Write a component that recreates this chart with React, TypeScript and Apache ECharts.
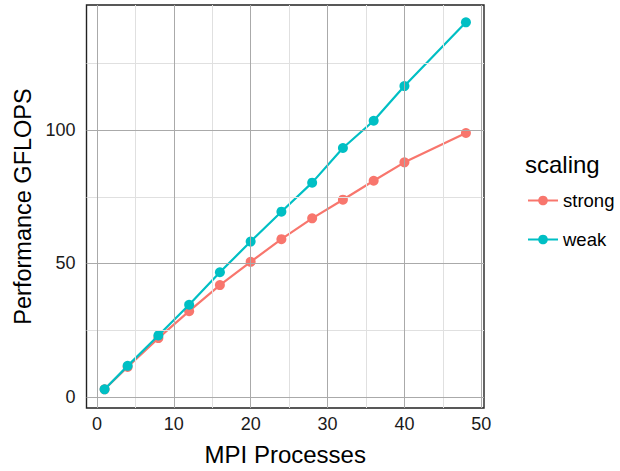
import React, { useEffect, useRef } from "react";
import * as echarts from "echarts";

const processes = [1, 4, 8, 12, 16, 20, 24, 28, 32, 36, 40, 48];
const strongGflops = [2.8, 11.2, 22.0, 32.1, 41.9, 50.6, 59.1, 66.9, 73.9, 81.0, 87.9, 98.9];
const weakGflops = [2.8, 11.6, 23.0, 34.5, 46.7, 58.2, 69.4, 80.3, 93.3, 103.5, 116.5, 140.4];
const xMajorTicks = [0, 10, 20, 30, 40, 50];
const xMinorTicks = [5, 15, 25, 35, 45];
const yMajorTicks = [0, 50, 100];
const yMinorTicks = [25, 75, 125];
const seriesNames = ["strong", "weak"];
const legendTitle = "scaling";

const FONT = "'Liberation Sans', Arial, Helvetica, sans-serif";

export default function App() {
  const ref = useRef<HTMLDivElement>(null);
  useEffect(() => {
    if (!ref.current) return;
    const chart = echarts.init(ref.current, undefined, { renderer: "svg" });
    const xs = processes;
    const xMin = -1.35, xMax = 50.35;
    const yMin = -4.2, yMax = 146.9;
    const gridLines = (vals: number[], axis: "xAxis" | "yAxis", color: string) =>
      vals.map((v) => ({ [axis]: v, lineStyle: { color, width: 1, type: "solid" } }));
    chart.setOption({
      animation: false,
      textStyle: { fontFamily: FONT },
      grid: {
        left: 86.5,
        right: 136,
        top: 5,
        bottom: 63,
        show: true,
        borderColor: "#222",
        borderWidth: 1.4,
        backgroundColor: "#fff",
      },
      xAxis: {
        type: "value",
        min: xMin,
        max: xMax,
        name: "MPI Processes",
        nameLocation: "middle",
        nameGap: 34,
        nameTextStyle: { fontSize: 24, color: "#000", fontFamily: FONT },
        axisLine: { show: false },
        axisTick: { show: true, length: 4, lineStyle: { color: "#333" }, customValues: xMajorTicks },
        axisLabel: { customValues: xMajorTicks, fontSize: 18, color: "#1a1a1a", margin: 7, fontFamily: FONT },
        splitLine: { show: false },
      },
      yAxis: {
        type: "value",
        min: yMin,
        max: yMax,
        name: "Performance GFLOPS",
        nameLocation: "middle",
        nameGap: 52,
        nameTextStyle: { fontSize: 23.5, color: "#000", fontFamily: FONT },
        axisLine: { show: false },
        axisTick: { show: true, length: 4, lineStyle: { color: "#333" }, customValues: yMajorTicks },
        axisLabel: { customValues: yMajorTicks, fontSize: 18, color: "#1a1a1a", margin: 11, fontFamily: FONT },
        splitLine: { show: false },
      },
      legend: {
        data: seriesNames,
        orient: "vertical",
        left: 527,
        top: 191,
        padding: 0,
        itemWidth: 30,
        itemHeight: 12,
        itemGap: 20,
        itemTextGap: 14,
        textStyle: { fontSize: 18.5, color: "#000", fontFamily: FONT },
      },
      graphic: [
        {
          type: "text",
          left: 525,
          top: 152,
          style: { text: legendTitle, fontSize: 24, fill: "#000", fontFamily: FONT },
        },
      ],
      series: [
        {
          type: "line",
          name: "__grid",
          data: [],
          z: 1,
          silent: true,
          markLine: {
            silent: true,
            symbol: ["none", "none"],
            label: { show: false },
            animation: false,
            data: [
              ...gridLines(xMinorTicks, "xAxis", "#e0e0e0"),
              ...gridLines(yMinorTicks, "yAxis", "#e0e0e0"),
              ...gridLines(xMajorTicks.filter((v) => v >= xMin && v <= xMax), "xAxis", "#aaaaaa"),
              ...gridLines(yMajorTicks, "yAxis", "#aaaaaa"),
            ],
          },
        },
        {
          type: "line",
          name: seriesNames[0],
          data: xs.map((x, i) => [x, strongGflops[i]]),
          symbol: "circle",
          symbolSize: 10,
          lineStyle: { width: 2.2, color: "#F8766D" },
          itemStyle: { color: "#F8766D" },
          color: "#F8766D",
          z: 3,
        },
        {
          type: "line",
          name: seriesNames[1],
          data: xs.map((x, i) => [x, weakGflops[i]]),
          symbol: "circle",
          symbolSize: 10,
          lineStyle: { width: 2.2, color: "#00BFC4" },
          itemStyle: { color: "#00BFC4" },
          color: "#00BFC4",
          z: 4,
        },
      ],
    });
    return () => chart.dispose();
  }, []);
  return <div ref={ref} style={{ width: 620, height: 471, position: "absolute", left: 0, top: 0 }} />;
}
